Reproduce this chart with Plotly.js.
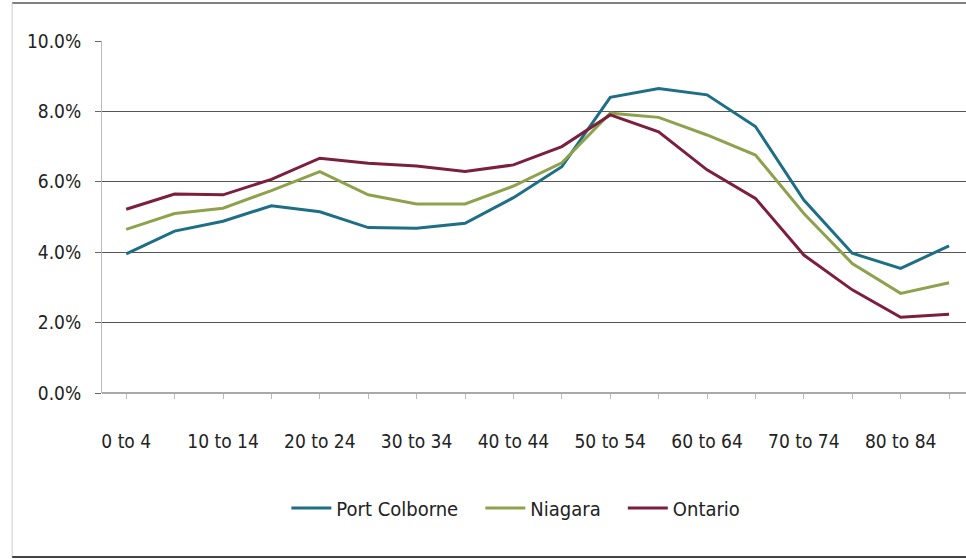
<!DOCTYPE html>
<html>
<head>
<meta charset="utf-8">
<script src="https://cdn.plot.ly/plotly-3.0.1.min.js"></script>
<style>html,body{margin:0;padding:0;background:#fff;}#chart{width:966px;height:559px;}</style>
</head>
<body>
<div id="chart"></div>
<script>
const ageGroups = ["0 to 4","5 to 9","10 to 14","15 to 19","20 to 24","25 to 29","30 to 34","35 to 39","40 to 44","45 to 49","50 to 54","55 to 59","60 to 64","65 to 69","70 to 74","75 to 79","80 to 84","85+"];
const shownLabels = ["0 to 4","","10 to 14","","20 to 24","","30 to 34","","40 to 44","","50 to 54","","60 to 64","","70 to 74","","80 to 84",""];
const seriesNames = ["Port Colborne","Niagara","Ontario"];
const portColborne = [3.95,4.60,4.88,5.32,5.15,4.70,4.68,4.82,5.55,6.43,8.40,8.65,8.47,7.57,5.48,3.97,3.54,4.18];
const niagara      = [4.65,5.10,5.25,5.75,6.29,5.63,5.37,5.37,5.88,6.54,7.95,7.83,7.33,6.76,5.10,3.68,2.83,3.13];
const ontario      = [5.22,5.65,5.63,6.07,6.67,6.53,6.45,6.29,6.48,7.00,7.90,7.42,6.34,5.53,3.92,2.93,2.15,2.24];
const yTicks = [0,2,4,6,8,10];
const yTickText = ["0.0%","2.0%","4.0%","6.0%","8.0%","10.0%"];

const FONT = "Liberation Sans Narrow, DejaVu Sans Condensed, Arial Narrow, sans-serif";
const xs = ageGroups.map((_, i) => i);
const pad = "\u00a0\u00a0\u00a0";

const traces = [
  {name: seriesNames[0], y: portColborne, color: "#1e6f86"},
  {name: seriesNames[1], y: niagara, color: "#8ea24e"},
  {name: seriesNames[2], y: ontario, color: "#7b1f3c"}
].map((s, i) => ({
  type: "scatter", mode: "lines", name: i < 2 ? s.name + pad : s.name, x: xs, y: s.y,
  line: {color: s.color, width: 3}, hoverinfo: "skip"
}));

const layout = {
  width: 966, height: 559,
  margin: {l: 102, r: 0, t: 41, b: 166, pad: 0},
  paper_bgcolor: "#ffffff", plot_bgcolor: "#ffffff",
  font: {family: FONT, size: 19, color: "#222"},
  showlegend: true,
  legend: {orientation: "h", x: 0.479, xanchor: "center", y: -0.327, yanchor: "middle",
           font: {family: FONT, size: 20, color: "#222"}, itemwidth: 40, tracegroupgap: 0},
  xaxis: {
    range: [-0.5, 17.35], tickmode: "array", tickvals: xs, ticktext: shownLabels,
    tickson: "boundaries", ticks: "outside", ticklen: 5, tickcolor: "#bbb",
    showgrid: false, zeroline: false, showline: false,
    ticklabelstandoff: 26, tickfont: {family: FONT, size: 19, color: "#222"}, fixedrange: true
  },
  yaxis: {
    range: [0, 10], tickmode: "array", tickvals: yTicks, ticktext: yTickText,
    ticks: "outside", ticklen: 6, tickcolor: "#666",
    showgrid: true, gridcolor: "#555", gridwidth: 1,
    zeroline: false, showline: true, linecolor: "#bbb", linewidth: 1,
    ticklabelstandoff: 10, tickfont: {family: FONT, size: 19, color: "#222"}, fixedrange: true
  },
  shapes: [
    {type: "line", xref: "paper", yref: "paper", x0: 0, x1: 1.01, y0: 0, y1: 0, line: {color: "#555", width: 1}},
    {type: "line", xref: "paper", yref: "paper", x0: -0.104, x1: 1.01, y0: 1.108, y1: 1.108, line: {color: "#555", width: 1.5}},
    {type: "line", xref: "paper", yref: "paper", x0: -0.104, x1: -0.104, y0: 1.108, y1: -0.466, line: {color: "#ccc", width: 1}},
    {type: "line", xref: "paper", yref: "paper", x0: -0.104, x1: 1.01, y0: -0.466, y1: -0.466, line: {color: "#444", width: 2}}
  ]
};

Plotly.newPlot("chart", traces, layout, {displayModeBar: false, staticPlot: true});
</script>
</body>
</html>
